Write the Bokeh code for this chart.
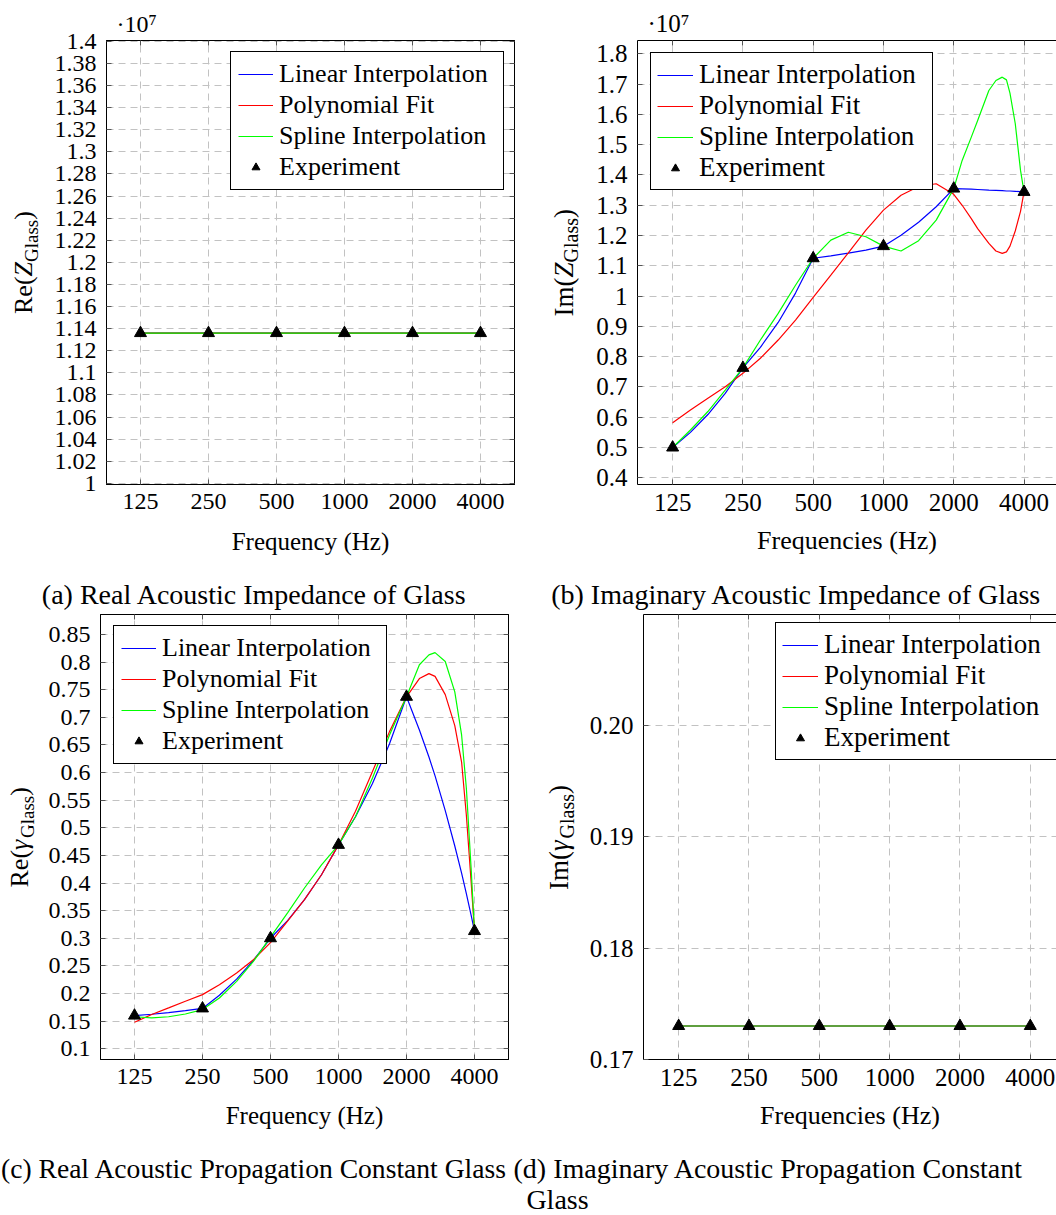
from bokeh.plotting import figure
from bokeh.models import Range1d, FixedTicker, CustomJSTickFormatter, LogAxis, LinearAxis, Label
from bokeh.layouts import row, column
from bokeh.embed import file_html
from bokeh.resources import INLINE

FONT = "Liberation Serif"

# ---------------- data ----------------
freq = [125, 250, 500, 1000, 2000, 4000]

# (a) Re(Z_Glass) in units of 10^7
re_z_exp = [1.136, 1.136, 1.136, 1.136, 1.136, 1.136]
re_z_linear = [1.136, 1.136, 1.136, 1.136, 1.136, 1.136]
re_z_poly = [1.136, 1.136, 1.136, 1.136, 1.136, 1.136]
re_z_spline = [1.136, 1.136, 1.136, 1.136, 1.136, 1.136]
re_z_ticks = [1.0, 1.02, 1.04, 1.06, 1.08, 1.1, 1.12, 1.14, 1.16, 1.18, 1.2,
              1.22, 1.24, 1.26, 1.28, 1.3, 1.32, 1.34, 1.36, 1.38, 1.4]

# (b) Im(Z_Glass) in units of 10^7
im_z_exp = [0.500, 0.763, 1.125, 1.165, 1.355, 1.344]
im_z_freq = [125, 149, 177, 210, 250, 297, 354, 420, 500, 595, 707, 841, 1000, 1189,
             1414, 1682, 2000, 2173, 2378, 2532, 2828, 3031, 3227, 3364, 3482, 3668, 3864, 4000]
im_z_linear = [0.500, 0.550, 0.609, 0.679, 0.763, 0.831, 0.913, 1.010, 1.125, 1.133,
               1.142, 1.152, 1.165, 1.201, 1.244, 1.295, 1.355, 1.354, 1.353, 1.352,
               1.350, 1.349, 1.348, 1.347, 1.347, 1.346, 1.345, 1.344]
im_z_poly = [0.582, 0.624, 0.663, 0.701, 0.745, 0.795, 0.855, 0.921, 0.996, 1.069,
             1.143, 1.218, 1.284, 1.333, 1.362, 1.371, 1.336, 1.300, 1.256, 1.223,
             1.174, 1.149, 1.141, 1.146, 1.165, 1.215, 1.280, 1.344]
im_z_spline = [0.500, 0.558, 0.619, 0.690, 0.763, 0.855, 0.943, 1.036, 1.125, 1.185,
               1.211, 1.196, 1.165, 1.149, 1.183, 1.251, 1.355, 1.448, 1.525, 1.580,
               1.679, 1.712, 1.723, 1.714, 1.670, 1.570, 1.415, 1.344]
im_z_ticks = [0.4, 0.5, 0.6, 0.7, 0.8, 0.9, 1.0, 1.1, 1.2, 1.3, 1.4, 1.5, 1.6, 1.7, 1.8]

# (c) Re(gamma_Glass)
re_g_exp = [0.160, 0.173, 0.300, 0.469, 0.737, 0.313]
re_g_freq = [125, 149, 177, 210, 250, 297, 354, 420, 500, 595, 707, 841, 1000, 1189,
             1414, 1682, 2000, 2281, 2514, 2676, 2969, 3272, 3507, 3681, 3864, 4000]
re_g_linear = [0.160, 0.1625, 0.1654, 0.1689, 0.173, 0.197, 0.226, 0.260, 0.300, 0.332,
               0.370, 0.415, 0.469, 0.520, 0.580, 0.652, 0.737, 0.677, 0.628, 0.594,
               0.531, 0.467, 0.418, 0.381, 0.342, 0.313]
re_g_poly = [0.148, 0.162, 0.174, 0.186, 0.198, 0.216, 0.237, 0.261, 0.292, 0.331,
             0.370, 0.415, 0.469, 0.530, 0.602, 0.674, 0.737, 0.770, 0.779, 0.774,
             0.741, 0.685, 0.619, 0.523, 0.403, 0.313]
re_g_spline = [0.158, 0.156, 0.158, 0.163, 0.171, 0.192, 0.222, 0.258, 0.302, 0.346,
               0.391, 0.433, 0.469, 0.520, 0.590, 0.668, 0.737, 0.795, 0.813, 0.817,
               0.801, 0.746, 0.668, 0.572, 0.427, 0.313]
re_g_ticks = [0.1, 0.15, 0.2, 0.25, 0.3, 0.35, 0.4, 0.45, 0.5, 0.55, 0.6, 0.65,
              0.7, 0.75, 0.8, 0.85]

# (d) Im(gamma_Glass)
im_g_exp = [0.173, 0.173, 0.173, 0.173, 0.173, 0.173]
im_g_linear = [0.173, 0.173, 0.173, 0.173, 0.173, 0.173]
im_g_poly = [0.173, 0.173, 0.173, 0.173, 0.173, 0.173]
im_g_spline = [0.173, 0.173, 0.173, 0.173, 0.173, 0.173]
im_g_ticks = [0.17, 0.18, 0.19, 0.20]

X_LO = 88.39


def no_align(p):
    try:
        p.frame_align = False
    except Exception:
        pass


def build(W, H, bl, br, bt, bb, x_hi, y_lo, y_hi, yticks, yfmt, fs, full, exp_mark=None):
    p = figure(width=W, height=H, title=exp_mark, title_location="above", x_axis_type="log",
               x_range=Range1d(X_LO, x_hi), y_range=Range1d(y_lo, y_hi),
               output_backend="svg", toolbar_location=None,
               min_border_left=bl, min_border_right=br,
               min_border_top=bt, min_border_bottom=bb)
    no_align(p)
    if exp_mark is not None:
        p.title.align = "left"
        p.title.offset = 10
        p.title.standoff = 8
        p.title.text_font = FONT
        p.title.text_font_size = f"{fs['tick']}px"
        p.title.text_font_style = "normal"
        p.title.text_color = "black"
    p.background_fill_color = "white"
    p.border_fill_color = "white"
    p.outline_line_color = "black" if full else None
    bottom = p.below[0]
    left = p.left[0]
    mirrors = []
    top = LogAxis()
    p.add_layout(top, "above")
    mirrors.append(top)
    if full:
        rt = LinearAxis()
        p.add_layout(rt, "right")
        mirrors.append(rt)
    xt = FixedTicker(ticks=freq)
    yt = FixedTicker(ticks=yticks)
    for ax in [bottom, top]:
        ax.ticker = xt
        ax.formatter = CustomJSTickFormatter(code="return String(Math.round(tick));")
    for ax in [left] + mirrors[1:]:
        ax.ticker = yt
        ax.formatter = CustomJSTickFormatter(code=yfmt)
    for ax in [bottom, left] + mirrors:
        ax.axis_line_color = "black"
        ax.axis_line_width = 1
        ax.major_tick_in = 5
        ax.major_tick_out = 0
        ax.major_tick_line_color = "#555555"
        ax.minor_tick_line_color = None
        ax.major_label_text_font = FONT
        ax.major_label_text_font_size = f"{fs['tick']}px"
        ax.major_label_text_color = "black"
        ax.axis_label_text_font = FONT
        ax.axis_label_text_font_style = "normal"
        ax.axis_label_text_font_size = f"{fs['axis']}px"
        ax.axis_label_text_color = "black"
    bottom.major_label_standoff = 9
    left.major_label_standoff = 10
    for ax in mirrors:
        ax.major_label_text_font_size = "0px"
        ax.major_label_text_color = None
        ax.major_label_standoff = 0
    p.grid.grid_line_color = "#c2c2c2"
    p.grid.grid_line_dash = "7 5"
    p.grid.grid_line_width = 1
    return p, bottom


def add_series(p, xs, lin, poly, spl, exp):
    p.line(xs, lin, line_color="#0000ff", line_width=1.2, legend_label="Linear Interpolation")
    p.line(xs, poly, line_color="#ff0000", line_width=1.2, legend_label="Polynomial Fit")
    p.line(xs, spl, line_color="#00ff00", line_width=1.2, legend_label="Spline Interpolation")
    p.scatter(freq, exp, marker="triangle", size=12, fill_color="black",
              line_color="black", legend_label="Experiment")


def style_legend(p, loc, size, lw, gw, pad, sp):
    lg = p.legend[0]
    lg.location = loc
    lg.label_text_font = FONT
    lg.label_text_font_size = f"{size}px"
    lg.label_text_color = "black"
    lg.border_line_color = "black"
    lg.border_line_width = 1
    lg.border_line_alpha = 1
    lg.background_fill_color = "white"
    lg.background_fill_alpha = 1
    lg.padding = pad
    lg.spacing = sp
    lg.margin = 0
    lg.glyph_width = gw
    lg.glyph_height = 20
    lg.label_height = 28
    lg.label_width = lw
    lg.label_standoff = 6


def deco(W, H):
    """A text-only strip whose frame fills the whole canvas."""
    d = figure(width=W, height=H, title=None, x_range=Range1d(0, W), y_range=Range1d(0, H),
               x_axis_location=None, y_axis_location=None, output_backend="svg",
               toolbar_location=None, min_border=0)
    no_align(d)
    d.min_border_left = d.min_border_right = d.min_border_top = d.min_border_bottom = 0
    d.grid.visible = False
    d.outline_line_color = None
    d.background_fill_color = "white"
    d.border_fill_color = "white"
    return d


def lab(d, text, x, y, size, align="left", baseline="middle", angle=0, style="normal"):
    d.add_layout(Label(x=x, y=y, x_units="data", y_units="data", text=text, text_font=FONT,
                       text_font_size=f"{size}px", text_align=align,
                       text_baseline=baseline, angle=angle, text_font_style=style,
                       text_color="black"))


def ylabel(d, first, sym, xb, y, size, sub):
    """Rotated 'Re(Z_Glass)'-style label; xb is the baseline column."""
    w_first = 1.444 * size
    w_sym = (0.556 if sym == "Z" else 0.46) * size
    w_sub = 2.222 * sub
    a = 1.5708
    xm = xb - 0.3375 * size
    xs = xb + 5 - 0.3375 * sub
    lab(d, first, xm, y, size, angle=a)
    lab(d, sym, xm, y + w_first, size, angle=a, style="italic")
    lab(d, "Glass", xs, y + w_first + w_sym, sub, angle=a)
    lab(d, ")", xm, y + w_first + w_sym + w_sub, size, angle=a)


FS_AC = {"tick": 24, "axis": 25}
FS_BD = {"tick": 25, "axis": 26}
YFMT = "return String(Math.round(tick*100)/100);"
EXP_MARK = "\u00b710\u2077"

# ---------- (a) ----------
pa, xa = build(496, 570, 62, 26, 40, 86, 5656.9, 0.999, 1.4008, re_z_ticks, YFMT, FS_AC,
               True, EXP_MARK)
add_series(pa, freq, re_z_linear, re_z_poly, re_z_spline, re_z_exp)
style_legend(pa, (124, 294), 26, 217, 35, 7, 1)
xa.axis_label = "Frequency (Hz)"
xa.axis_label_standoff = 16
ya = deco(44, 570)
ylabel(ya, "Re(", "Z", 32, 256.5, 26, 19)

# ---------- (b) ----------
pb, xb = build(466, 570, 47, 0, 40, 86, 5510, 0.378, 1.844, im_z_ticks, YFMT, FS_BD,
               False, EXP_MARK)
add_series(pb, im_z_freq, im_z_linear, im_z_poly, im_z_spline, im_z_exp)
style_legend(pb, (13, 294), 27, 227, 36, 6, 0)
xb.axis_label = "Frequencies (Hz)"
xb.axis_label_standoff = 12
yb = deco(50, 570)
ylabel(yb, "Im(", "Z", 32.5, 254, 27, 20)

# ---------- captions, top row ----------
cap1 = deco(1056, 40)
lab(cap1, "(a) Real Acoustic Impedance of Glass", 254, 16, 28, align="center")
lab(cap1, "(b) Imaginary Acoustic Impedance of Glass", 796, 16, 28, align="center")

# ---------- (c) ----------
pc, xc = build(472, 530, 60, 4, 4, 81, 5656.9, 0.0806, 0.886, re_g_ticks, YFMT, FS_AC, True)
add_series(pc, re_g_freq, re_g_linear, re_g_poly, re_g_spline, re_g_exp)
style_legend(pc, (13, 295), 26, 217, 35, 7, 1)
xc.axis_label = "Frequency (Hz)"
xc.axis_label_standoff = 15
yc = deco(40, 530)
ylabel(yc, "Re(", "\u03b3", 28, 253, 26, 19)

# ---------- (d) ----------
pd_, xd = build(474, 530, 61, 0, 4, 81, 5180, 0.16999, 0.21, im_g_ticks,
                "return tick.toFixed(2);", FS_BD, False)
add_series(pd_, freq, im_g_linear, im_g_poly, im_g_spline, im_g_exp)
style_legend(pd_, (132, 299), 27, 227, 36, 6, 0)
xd.axis_label = "Frequencies (Hz)"
xd.axis_label_standoff = 12
yd = deco(70, 530)
ylabel(yd, "Im(", "\u03b3", 56, 250.6, 27, 20)

# ---------- captions, bottom row ----------
cap2 = deco(1056, 75)
lab(cap2, "(c) Real Acoustic Propagation Constant Glass", 507, 47, 27.6, align="right")
lab(cap2, "(d) Imaginary Acoustic Propagation Constant", 513, 47, 28)
lab(cap2, "Glass", 557, 16, 28, align="center")

layout = column(row(ya, pa, yb, pb), cap1, row(yc, pc, yd, pd_), cap2)
open("out.html", "w").write(file_html(layout, INLINE))
